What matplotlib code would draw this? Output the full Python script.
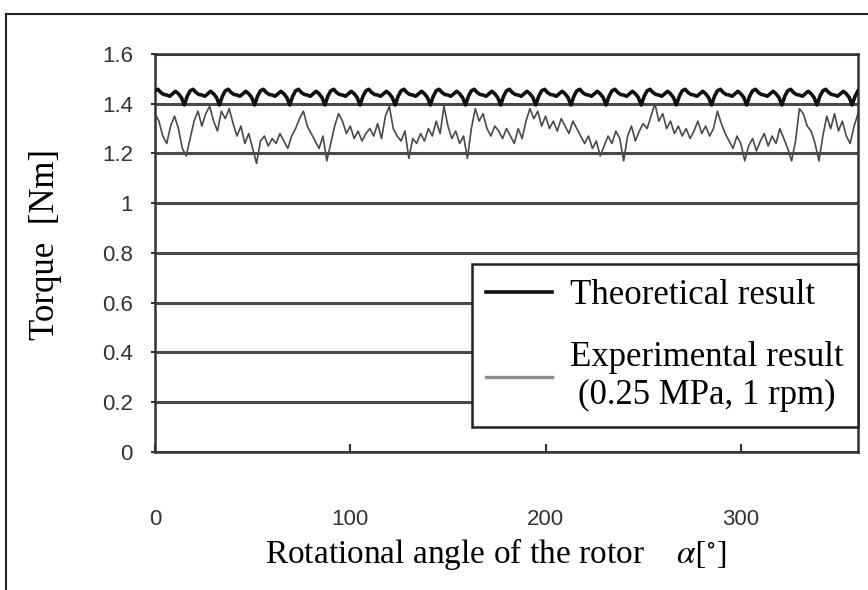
import matplotlib.pyplot as plt
import numpy as np
from matplotlib.patches import Rectangle

# angles (deg) and torque values
exp_angle = np.arange(0, 361, 2)
exp_torque = [
    1.36, 1.33, 1.27, 1.24, 1.31, 1.35, 1.30, 1.22, 1.19, 1.26,
    1.33, 1.37, 1.31, 1.36, 1.39, 1.33, 1.29, 1.37, 1.34, 1.38,
    1.32, 1.27, 1.31, 1.24, 1.28, 1.22, 1.16, 1.25, 1.27, 1.23,
    1.26, 1.24, 1.28, 1.25, 1.22, 1.27, 1.30, 1.34, 1.37, 1.31,
    1.28, 1.25, 1.22, 1.27, 1.17, 1.24, 1.31, 1.36, 1.33, 1.28,
    1.31, 1.26, 1.29, 1.25, 1.28, 1.30, 1.27, 1.32, 1.26, 1.35,
    1.39, 1.30, 1.27, 1.25, 1.29, 1.18, 1.26, 1.24, 1.28, 1.25,
    1.30, 1.27, 1.33, 1.28, 1.39, 1.31, 1.26, 1.29, 1.24, 1.27,
    1.18, 1.30, 1.38, 1.33, 1.36, 1.30, 1.27, 1.31, 1.29, 1.26,
    1.30, 1.27, 1.24, 1.30, 1.26, 1.33, 1.38, 1.34, 1.37, 1.31,
    1.35, 1.30, 1.33, 1.29, 1.34, 1.31, 1.28, 1.33, 1.30, 1.27,
    1.24, 1.27, 1.22, 1.25, 1.19, 1.23, 1.27, 1.24, 1.29, 1.26,
    1.17, 1.27, 1.31, 1.25, 1.29, 1.32, 1.30, 1.35, 1.40, 1.33,
    1.36, 1.30, 1.33, 1.28, 1.31, 1.27, 1.30, 1.26, 1.29, 1.33,
    1.28, 1.31, 1.27, 1.30, 1.37, 1.32, 1.28, 1.25, 1.22, 1.27,
    1.24, 1.17, 1.23, 1.26, 1.21, 1.25, 1.28, 1.23, 1.27, 1.24,
    1.30, 1.26, 1.22, 1.17, 1.25, 1.38, 1.36, 1.31, 1.29, 1.24,
    1.17, 1.27, 1.35, 1.30, 1.36, 1.29, 1.33, 1.27, 1.24, 1.31,
    1.36,
]

theo_angle = np.arange(0, 360.1, 1.5)
theo_torque = [
    1.452, 1.458, 1.445, 1.437, 1.435, 1.430, 1.440, 1.450, 1.440, 1.425, 1.395, 1.430,
    1.452, 1.458, 1.445, 1.437, 1.435, 1.430, 1.440, 1.450, 1.440, 1.425, 1.395, 1.430,
    1.452, 1.458, 1.445, 1.437, 1.435, 1.430, 1.440, 1.450, 1.440, 1.425, 1.395, 1.430,
    1.452, 1.458, 1.445, 1.437, 1.435, 1.430, 1.440, 1.450, 1.440, 1.425, 1.395, 1.430,
    1.452, 1.458, 1.445, 1.437, 1.435, 1.430, 1.440, 1.450, 1.440, 1.425, 1.395, 1.430,
    1.452, 1.458, 1.445, 1.437, 1.435, 1.430, 1.440, 1.450, 1.440, 1.425, 1.395, 1.430,
    1.452, 1.458, 1.445, 1.437, 1.435, 1.430, 1.440, 1.450, 1.440, 1.425, 1.395, 1.430,
    1.452, 1.458, 1.445, 1.437, 1.435, 1.430, 1.440, 1.450, 1.440, 1.425, 1.395, 1.430,
    1.452, 1.458, 1.445, 1.437, 1.435, 1.430, 1.440, 1.450, 1.440, 1.425, 1.395, 1.430,
    1.452, 1.458, 1.445, 1.437, 1.435, 1.430, 1.440, 1.450, 1.440, 1.425, 1.395, 1.430,
    1.452, 1.458, 1.445, 1.437, 1.435, 1.430, 1.440, 1.450, 1.440, 1.425, 1.395, 1.430,
    1.452, 1.458, 1.445, 1.437, 1.435, 1.430, 1.440, 1.450, 1.440, 1.425, 1.395, 1.430,
    1.452, 1.458, 1.445, 1.437, 1.435, 1.430, 1.440, 1.450, 1.440, 1.425, 1.395, 1.430,
    1.452, 1.458, 1.445, 1.437, 1.435, 1.430, 1.440, 1.450, 1.440, 1.425, 1.395, 1.430,
    1.452, 1.458, 1.445, 1.437, 1.435, 1.430, 1.440, 1.450, 1.440, 1.425, 1.395, 1.430,
    1.452, 1.458, 1.445, 1.437, 1.435, 1.430, 1.440, 1.450, 1.440, 1.425, 1.395, 1.430,
    1.452, 1.458, 1.445, 1.437, 1.435, 1.430, 1.440, 1.450, 1.440, 1.425, 1.395, 1.430,
    1.452, 1.458, 1.445, 1.437, 1.435, 1.430, 1.440, 1.450, 1.440, 1.425, 1.395, 1.430,
    1.452, 1.458, 1.445, 1.437, 1.435, 1.430, 1.440, 1.450, 1.440, 1.425, 1.395, 1.430,
    1.452, 1.458, 1.445, 1.437, 1.435, 1.430, 1.440, 1.450, 1.440, 1.425, 1.395, 1.430,
    1.452,
]

y_ticks = [0, 0.2, 0.4, 0.6, 0.8, 1, 1.2, 1.4, 1.6]
y_tick_labels = ['0', '0.2', '0.4', '0.6', '0.8', '1', '1.2', '1.4', '1.6']
x_ticks = [0, 100, 200, 300]

serif = ['Liberation Serif', 'DejaVu Serif']
sans = ['Liberation Sans', 'DejaVu Sans']
plt.rcParams['mathtext.fontset'] = 'stix'

fig = plt.figure(figsize=(8.68, 5.90), dpi=100)
ax = fig.add_axes([155 / 868, 138.3 / 590, 703 / 868, 397.7 / 590])

# outer frame of the picture
fig.patches.append(Rectangle((6 / 868, -0.05), 2, 1.05 - 14 / 590, transform=fig.transFigure,
                             fill=False, edgecolor='#222222', linewidth=1.5))

ax.plot(theo_angle, theo_torque, color='#111111', linewidth=2.6, label='Theoretical result',
        zorder=3)
ax.plot(exp_angle, exp_torque, color='#4a4a4a', linewidth=1.2, zorder=2)
# legend handle of the experimental curve is a light grey line
ax.plot([], [], color='#8a8a8a', linewidth=2.4,
        label='Experimental result\n(0.25 MPa, 1 rpm)')

ax.set_xlim(0, 360)
ax.set_ylim(0, 1.6)
ax.set_yticks(y_ticks)
ax.set_yticklabels(y_tick_labels)
ax.set_xticks(x_ticks)
ax.yaxis.grid(True, color='#4a4a4a', linewidth=2.2)
ax.set_axisbelow(True)

for s in ax.spines.values():
    s.set_color('#333333')
    s.set_linewidth(1.8)

ax.tick_params(axis='x', direction='in', length=6, width=1.5, color='#333333', pad=41,
               labelsize=16, labelcolor='#333333')
ax.tick_params(axis='y', direction='out', length=3, width=1.5, color='#333333', pad=13,
               labelsize=16, labelcolor='#333333')
for lab in ax.get_xticklabels() + ax.get_yticklabels():
    lab.set_family(sans)

ax.set_ylabel('Torque  [Nm]', family=serif, fontsize=25)
ax.yaxis.set_label_coords(-0.132, 0.522)
ax.set_xlabel(r'Rotational angle of the rotor    $\alpha\left[^{\circ}\right]$', family=serif,
              fontsize=24)
ax.xaxis.set_label_coords(0.485, -0.212)

leg = ax.legend(loc='lower right', bbox_to_anchor=(1.0, 0.062), borderaxespad=0,
                prop={'family': serif, 'size': 25}, handlelength=1.9, handletextpad=0.5,
                labelspacing=0.85, fancybox=False, framealpha=1, borderpad=0.42)
leg.get_frame().set_edgecolor('#222222')
leg.get_frame().set_linewidth(1.8)
for t in leg.get_texts():
    t.set_multialignment('center')

plt.savefig('out.png', dpi=100)
